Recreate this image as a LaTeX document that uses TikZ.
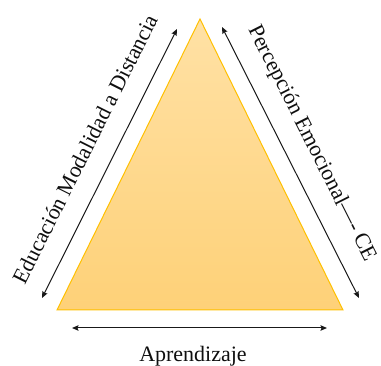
\documentclass[tikz,border=0pt]{standalone}
\usepackage{fontspec}
\setmainfont{Liberation Serif}
\usetikzlibrary{arrows.meta}
\tikzset{
  dimarrow/.style={line width=1pt, draw={rgb,255:red,25;green,25;blue,25},
    {Stealth[length=6.5pt,width=5.5pt,inset=1pt]}-{Stealth[length=6.5pt,width=5.5pt,inset=1pt]}},
  lbl/.style={font=\fontsize{22}{26}\selectfont, inner sep=0pt, text={rgb,255:red,15;green,15;blue,15}},
}
\begin{document}
\begin{tikzpicture}[x=1pt,y=-1pt]
\useasboundingbox (0,0) rectangle (381,366);
% triangle
\coordinate (apex) at (200,19);
\coordinate (bl) at (57,310);
\coordinate (br) at (343,310);
\shade[top color={rgb,255:red,255;green,225;blue,165}, bottom color={rgb,255:red,254;green,209;blue,120}]
  (apex) -- (bl) -- (br) -- cycle;
\draw[line width=1pt, draw={rgb,255:red,255;green,192;blue,0}, line join=miter]
  (apex) -- (bl) -- (br) -- cycle;
% arrows
\coordinate (la1) at (42,298);
\coordinate (la2) at (177,29);
\coordinate (ra1) at (222,27);
\coordinate (ra2) at (359,298);
\coordinate (ba1) at (72,328);
\coordinate (ba2) at (327,328);
\draw[dimarrow] (la1) -- (la2);
\draw[dimarrow] (ra1) -- (ra2);
\draw[dimarrow] (ba1) -- (ba2);
% labels
\node[lbl, anchor=base, rotate=63.35] (tleft) at (91.6,152.3) {Educación Modalidad a Distancia};
\node[lbl, anchor=base, rotate=-63.2] (tright) at (307,146) {Percepción Emocional---{}- CE};
\node[lbl, anchor=base] (tbottom) at (193,362) {Aprendizaje};
\end{tikzpicture}
\end{document}
